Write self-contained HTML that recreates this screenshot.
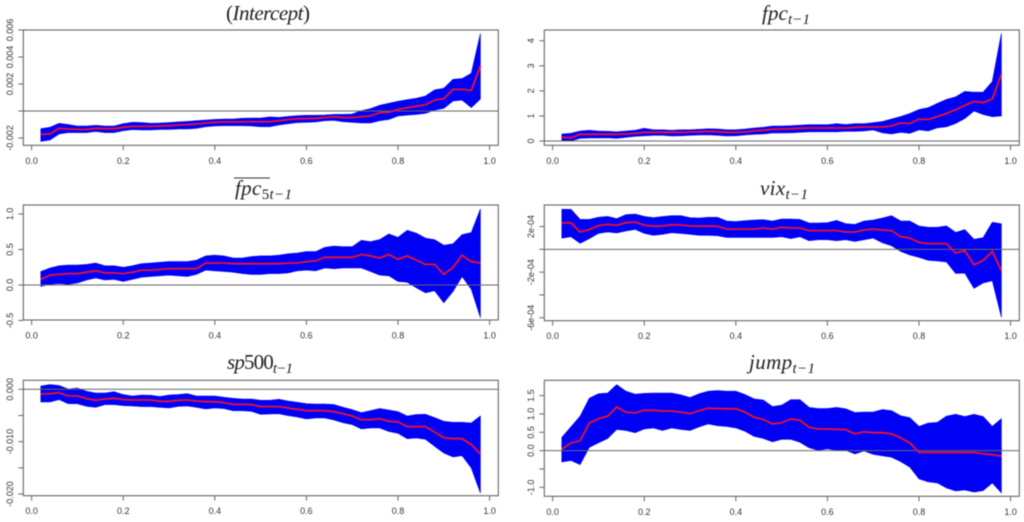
<!DOCTYPE html>
<html lang="en">
<head>
<meta charset="utf-8">
<title>Quantile regression coefficient panels</title>
<style>
html,body{margin:0;padding:0;background:#fff;width:1024px;height:522px;overflow:hidden}
svg{display:block;filter:blur(0.45px)}
.ttl{font-family:"Liberation Serif",serif;font-style:italic;font-size:21px;fill:#222}
.up{font-style:normal}
.sub{font-size:15px}
.tick{font-family:"Liberation Sans",sans-serif;font-size:9px;fill:#333}
</style>
</head>
<body>
<svg id="fig" width="1024" height="522" viewBox="0 0 1024 522" xmlns="http://www.w3.org/2000/svg">
<text class="ttl" x="226" y="20" textLength="84"><tspan class="up">(</tspan>Intercept<tspan class="up">)</tspan></text>
<text class="ttl" x="762" y="20" textLength="48">fpc<tspan class="sub" dy="4">t−1</tspan></text>
<text class="ttl" x="235" y="195" textLength="57">fpc<tspan class="sub up" dy="4">5</tspan><tspan class="sub">t−1</tspan></text>
<line x1="234" x2="270" y1="178" y2="178" stroke="#333" stroke-width="1"/>
<text class="ttl" x="760" y="195" textLength="48">vix<tspan class="sub" dy="4">t−1</tspan></text>
<text class="ttl" x="227" y="369" textLength="66">sp<tspan class="up">500</tspan><tspan class="sub" dy="4">t−1</tspan></text>
<text class="ttl" x="749" y="369" textLength="66">jump<tspan class="sub" dy="4">t−1</tspan></text>
</svg>
<script>
// Shared quantile levels
const quantiles = [.02,.04,.06,.08,.10,.12,.14,.16,.18,.20,.22,.24,.26,.28,.30,.32,.34,.36,.38,.40,.42,.44,.46,.48,.50,.52,.54,.56,.58,.60,.62,.64,.66,.68,.70,.72,.74,.76,.78,.80,.82,.84,.86,.88,.90,.92,.94,.96,.98];
const xTicks = [0,.2,.4,.6,.8,1];
const xTickLabels = ["0.0","0.2","0.4","0.6","0.8","1.0"];

// (Intercept), values in units of 1e-3
const interceptMean = [-1.73,-1.70,-1.28,-1.33,-1.36,-1.36,-1.28,-1.31,-1.31,-1.21,-1.14,-1.14,-1.14,-1.11,-1.09,-1.04,-1.01,-.96,-.89,-.84,-.81,-.81,-.81,-.79,-.79,-.79,-.72,-.64,-.57,-.57,-.54,-.49,-.42,-.49,-.49,-.42,-.37,-.12,-.10,.12,.25,.35,.47,.81,.91,1.60,1.60,1.53,3.33];
const interceptUpper = [-1.31,-1.21,-.91,-1.01,-1.11,-1.11,-1.06,-1.11,-1.11,-.94,-.84,-.86,-.91,-.89,-.86,-.81,-.77,-.72,-.67,-.62,-.59,-.59,-.54,-.52,-.52,-.44,-.47,-.40,-.35,-.32,-.32,-.30,-.25,-.25,-.22,.02,.17,.42,.57,.72,.84,.94,1.11,1.56,1.68,2.35,2.40,2.79,5.75];
const interceptLower = [-2.25,-2.15,-1.70,-1.60,-1.60,-1.60,-1.51,-1.60,-1.60,-1.46,-1.38,-1.41,-1.41,-1.36,-1.36,-1.33,-1.33,-1.28,-1.16,-1.11,-1.09,-1.09,-1.09,-1.11,-1.16,-1.16,-1.04,-.94,-.86,-.84,-.81,-.72,-.69,-.79,-.84,-.89,-.89,-.72,-.62,-.37,-.30,-.25,-.17,.07,.20,.74,.81,.25,.89];
const interceptTicks = [-2,0,2,4,6];
const interceptTickLabels = ["-0.002","","0.002","0.004","0.006"];

// fpc
const fpcMean = [.15,.13,.27,.27,.27,.27,.27,.28,.31,.35,.35,.35,.35,.35,.36,.37,.39,.37,.35,.35,.36,.41,.43,.47,.48,.49,.51,.52,.52,.52,.52,.52,.55,.56,.56,.56,.60,.72,.70,.88,.86,.98,1.10,1.25,1.42,1.58,1.53,1.68,2.67];
const fpcUpper = [.28,.31,.40,.43,.40,.39,.37,.40,.43,.51,.45,.45,.43,.45,.45,.47,.49,.48,.45,.45,.48,.52,.55,.60,.60,.61,.63,.65,.65,.65,.69,.66,.69,.69,.73,.78,.88,.98,1.10,1.26,1.33,1.50,1.66,1.76,1.98,1.95,1.95,2.37,4.30];
const fpcLower = [0,0,.11,.12,.12,.13,.11,.15,.19,.21,.23,.23,.20,.21,.23,.24,.25,.23,.20,.21,.24,.27,.28,.32,.32,.33,.35,.37,.37,.37,.37,.39,.39,.40,.44,.33,.28,.35,.31,.45,.40,.53,.57,.70,.90,1.20,1.06,.97,1.00];
const fpcTicks = [0,1,2,3,4];
const fpcTickLabels = ["0","1","2","3","4"];

// mean fpc 5
const fpc5Mean = [.08,.14,.15,.16,.16,.18,.20,.17,.17,.16,.18,.21,.21,.22,.23,.23,.23,.23,.31,.31,.31,.30,.30,.30,.30,.30,.30,.31,.31,.33,.34,.39,.39,.39,.39,.43,.41,.38,.43,.36,.41,.35,.29,.29,.15,.25,.42,.33,.31];
const fpc5Upper = [.19,.24,.27,.28,.28,.29,.31,.27,.27,.25,.27,.30,.31,.32,.33,.33,.33,.35,.41,.42,.41,.38,.38,.40,.41,.41,.42,.44,.45,.47,.47,.53,.55,.54,.54,.63,.61,.64,.72,.67,.77,.73,.66,.64,.56,.58,.71,.74,1.07];
const fpc5Lower = [-.02,.01,.02,.01,.03,.07,.10,.07,.08,.05,.08,.11,.12,.13,.14,.13,.12,.15,.21,.20,.19,.18,.16,.15,.15,.16,.16,.17,.20,.21,.20,.24,.23,.24,.24,.24,.19,.14,.13,.05,.04,-.04,-.11,-.08,-.25,-.09,.12,-.06,-.46];
const fpc5Ticks = [-.5,0,.5,1];
const fpc5TickLabels = ["-0.5","0.0","0.5","1.0"];

// vix, values in units of 1e-4
const vixMean = [2.31,2.34,1.52,1.73,2.08,2.19,2.11,2.34,2.40,2.13,2.02,2.05,2.16,2.13,2.05,2.02,2.05,2.02,1.78,1.78,1.78,1.78,1.87,1.78,1.93,1.87,1.87,1.64,1.64,1.64,1.64,1.52,1.52,1.70,1.78,1.70,1.64,1.11,.99,.61,.50,.50,.50,-.32,-.12,-1.35,-.99,-.18,-1.87];
const vixUpper = [3.51,3.51,2.63,2.63,2.81,2.89,2.69,3.04,3.10,2.89,2.78,2.87,2.95,2.95,2.78,2.75,2.81,2.81,2.49,2.43,2.51,2.57,2.60,2.49,2.66,2.66,2.63,2.31,2.31,2.34,2.54,2.25,2.19,2.49,2.57,2.75,2.95,2.49,2.49,2.05,1.93,1.93,2.05,1.49,1.73,.88,1.02,2.37,2.25];
const vixLower = [.99,1.11,.53,.94,1.40,1.52,1.43,1.61,1.75,1.40,1.23,1.32,1.46,1.40,1.32,1.23,1.23,1.20,1.05,1.05,1.05,1.05,1.05,1.05,1.11,.94,1.11,.76,.85,.85,.76,.85,.70,.85,.99,.58,.32,-.18,-.50,-.70,-.96,-1.02,-1.11,-2.11,-2.08,-3.42,-2.95,-2.75,-5.96];
const vixTicks = [-6,-4,-2,0,2];
const vixTickLabels = ["-6e-04","","-2e-04","","2e-04"];

// sp500, values in units of 1e-3
const sp500Mean = [-.89,-.83,-.64,-1.27,-1.27,-1.78,-2.10,-1.85,-1.72,-1.97,-2.04,-2.04,-2.04,-2.29,-2.29,-2.10,-2.04,-2.23,-2.36,-2.36,-2.55,-2.87,-2.87,-2.93,-3.31,-3.31,-3.31,-3.57,-3.82,-4.08,-4.08,-4.08,-4.27,-4.65,-5.10,-5.80,-5.80,-5.61,-6.11,-6.24,-7.13,-7.13,-7.13,-8.15,-9.24,-9.43,-9.43,-10.57,-12.36];
const sp500Upper = [.64,.89,.70,.06,.25,-.38,-.70,-.70,-.45,-1.02,-1.27,-1.08,-1.15,-1.40,-1.08,-1.02,-.83,-1.27,-1.27,-1.27,-1.53,-1.72,-1.85,-1.85,-2.10,-2.10,-1.91,-2.23,-2.48,-2.74,-2.80,-2.80,-2.93,-3.44,-3.89,-4.46,-4.08,-3.69,-3.95,-4.27,-5.10,-4.84,-4.78,-5.41,-6.11,-6.31,-6.31,-6.43,-5.10];
const sp500Lower = [-2.42,-2.42,-1.97,-2.74,-2.74,-3.25,-3.44,-2.93,-2.93,-3.12,-3.18,-3.31,-3.31,-3.44,-3.57,-3.25,-3.18,-3.44,-3.76,-3.57,-3.69,-4.08,-4.08,-4.20,-4.78,-4.71,-4.65,-5.03,-5.29,-5.67,-5.48,-5.48,-5.86,-6.37,-6.75,-7.58,-7.39,-7.39,-8.03,-8.41,-9.43,-9.30,-9.55,-10.89,-12.17,-12.93,-12.68,-15.03,-19.81];
const sp500Ticks = [-20,-15,-10,-5,0];
const sp500TickLabels = ["-0.020","","-0.010","","0.000"];

// jump
const jumpMean = [.04,.21,.27,.75,.87,.94,1.19,1.05,1.03,1.10,1.10,1.08,1.08,1.05,1.01,1.09,1.16,1.15,1.14,1.14,1.05,.91,.85,.73,.76,.86,.83,.64,.59,.59,.58,.57,.46,.51,.49,.49,.46,.35,.21,-.05,-.05,-.05,-.05,-.05,-.05,-.05,-.08,-.11,-.15];
const jumpUpper = [.36,.65,.94,1.43,1.55,1.57,1.80,1.62,1.54,1.56,1.57,1.57,1.57,1.52,1.45,1.55,1.62,1.64,1.62,1.62,1.53,1.41,1.38,1.20,1.24,1.39,1.39,1.18,1.15,1.15,1.18,1.14,1.04,1.05,1.05,1.12,1.09,.95,.90,.66,.75,.77,.94,.99,.93,.99,.93,.66,.87];
const jumpLower = [-.31,-.27,-.38,.09,.21,.33,.58,.55,.49,.59,.62,.55,.62,.58,.55,.65,.73,.68,.66,.62,.53,.39,.33,.24,.31,.31,.23,.08,.01,.05,.01,.01,-.09,-.01,-.10,-.14,-.18,-.30,-.45,-.77,-.85,-.88,-1.02,-1.10,-1.07,-1.13,-1.09,-.88,-1.15];
const jumpTicks = [-1,-.5,0,.5,1,1.5];
const jumpTickLabels = ["-1.0","","0.0","0.5","1.0","1.5"];

const NS = "http://www.w3.org/2000/svg";
const fig = document.getElementById("fig");
const X_MIN = -0.0182, X_MAX = 1.019;

function make(tag, parent, attrs) {
  const el = document.createElementNS(NS, tag);
  for (const k in attrs) el.setAttribute(k, attrs[k]);
  parent.appendChild(el);
  return el;
}

function drawPanel(name, frame, yDomain, mean, upper, lower, ticks, tickLabels) {
  const sx = v => frame.left + (v - X_MIN) / (X_MAX - X_MIN) * (frame.right - frame.left);
  const sy = v => frame.bottom - (v - yDomain[0]) / (yDomain[1] - yDomain[0]) * (frame.bottom - frame.top);

  const g = make("g", fig, {});
  
  

  const top = upper.map((v, i) => sx(quantiles[i]).toFixed(1) + "," + sy(v).toFixed(1));
  const bot = lower.map((v, i) => sx(quantiles[i]).toFixed(1) + "," + sy(v).toFixed(1)).reverse();
  const band = make("polygon", g, {points: top.concat(bot).join(" "), fill: "#0000f4", stroke: "#0000f4", "stroke-width": 0.6});
  
  

  const zero = make("line", g, {x1: frame.left, x2: frame.right, y1: sy(0), y2: sy(0), stroke: "#666", "stroke-width": 1});
  
  

  const line = make("polyline", g, {points: mean.map((v, i) => sx(quantiles[i]).toFixed(1) + "," + sy(v).toFixed(1)).join(" "), fill: "none", stroke: "#f01030", "stroke-width": 1.8});
  
  

  const box = make("rect", g, {x: frame.left, y: frame.top, width: frame.right - frame.left, height: frame.bottom - frame.top, fill: "none", stroke: "#666", "stroke-width": 1.1});
  
  

  xTicks.forEach((t, i) => {
    const mark = make("line", g, {x1: sx(t), x2: sx(t), y1: frame.bottom, y2: frame.bottom + 5, stroke: "#666", "stroke-width": 1});
    
    
    const label = make("text", g, {x: sx(t), y: frame.bottom + 18.5, "text-anchor": "middle", class: "tick"});
    label.textContent = xTickLabels[i];
    
    
  });

  ticks.forEach((t, i) => {
    const mark = make("line", g, {x1: frame.left - 5, x2: frame.left, y1: sy(t), y2: sy(t), stroke: "#666", "stroke-width": 1});
    
    
    if (tickLabels[i]) {
      const lx = frame.left - 10.5;
      const label = make("text", g, {x: lx, y: sy(t), "text-anchor": "middle", class: "tick", transform: "rotate(-90 " + lx + " " + sy(t) + ")"});
      label.textContent = tickLabels[i];
      
      
    }
  });
}

drawPanel("intercept", {left:23.3, right:498.3, top:30, bottom:145.3}, [-2.54,6.0], interceptMean, interceptUpper, interceptLower, interceptTicks, interceptTickLabels);
drawPanel("fpc", {left:544.3, right:1019.3, top:30, bottom:145.3}, [-.17,4.43], fpcMean, fpcUpper, fpcLower, fpcTicks, fpcTickLabels);
drawPanel("fpc5", {left:23.3, right:498.3, top:205, bottom:320}, [-.493,1.127], fpc5Mean, fpc5Upper, fpc5Lower, fpc5Ticks, fpc5TickLabels);
drawPanel("vix", {left:544.3, right:1019.3, top:205, bottom:320.7}, [-6.26,3.89], vixMean, vixUpper, vixLower, vixTicks, vixTickLabels);
drawPanel("sp500", {left:23.3, right:498.3, top:380.3, bottom:495.7}, [-20.32,1.72], sp500Mean, sp500Upper, sp500Lower, sp500Ticks, sp500TickLabels);
drawPanel("jump", {left:544.3, right:1019.3, top:380.3, bottom:496.3}, [-1.245,1.918], jumpMean, jumpUpper, jumpLower, jumpTicks, jumpTickLabels);
</script>
</body>
</html>
